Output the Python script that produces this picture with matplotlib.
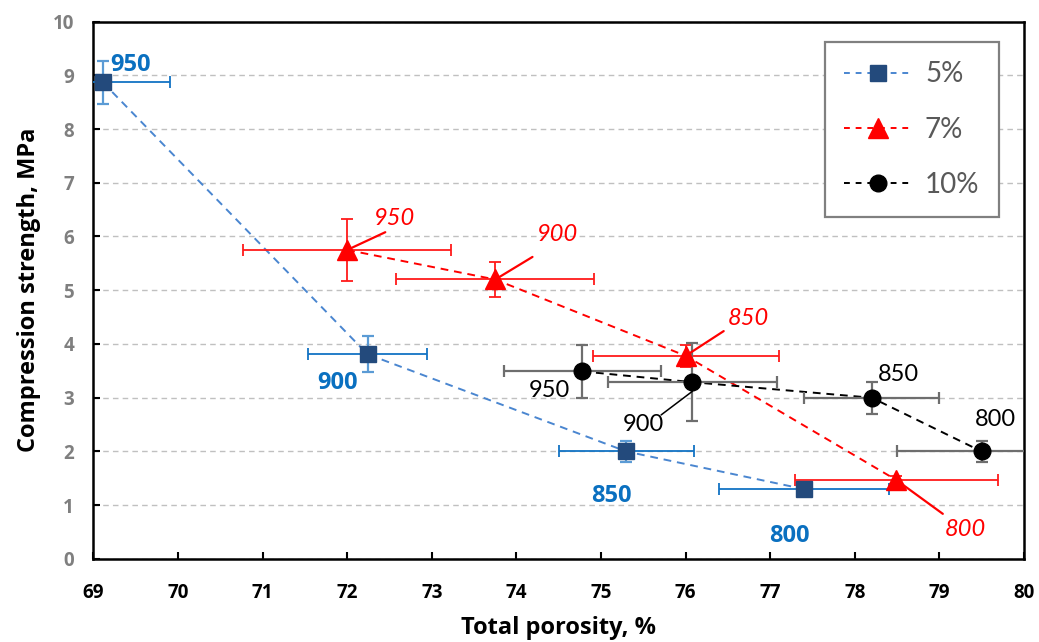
import matplotlib
matplotlib.use('Agg')
import matplotlib.pyplot as plt

plt.rcParams['font.family'] = ['Lato', 'DejaVu Sans']
BOLD = ['Open Sans', 'DejaVu Sans']

# ---- data ----
# 5 %
x5 = [69.11, 72.24, 75.30, 77.40]
y5 = [8.87, 3.81, 2.00, 1.30]
xe5 = [0.80, 0.70, 0.80, 1.00]
ye5 = [0.40, 0.33, 0.20, 0.07]
lab5 = ['950', '900', '850', '800']

# 7 %
x7 = [72.00, 73.75, 76.00, 78.49]
y7 = [5.75, 5.20, 3.78, 1.47]
xe7 = [1.23, 1.17, 1.10, 1.20]
ye7 = [0.58, 0.33, 0.20, 0.08]
lab7 = ['950', '900', '850', '800']

# 10 %
x10 = [74.78, 76.08, 78.20, 79.50]
y10 = [3.49, 3.29, 3.00, 2.00]
xe10 = [0.93, 1.00, 0.80, 1.00]
ye10 = [0.50, 0.73, 0.30, 0.20]
lab10 = ['950', '900', '850', '800']

# label positions (text anchor)
pos5 = [(69.20, 9.20), (71.88, 3.27), (75.12, 1.17), (77.23, 0.43)]
pos7 = [(72.56, 6.34), (74.49, 6.03), (76.74, 4.48), (79.31, 0.54)]
lead7 = [(72.45, 6.08), (74.19, 5.62), (76.45, 4.24), (79.04, 0.84)]
pos10 = [(74.39, 3.13), (75.50, 2.51), (78.52, 3.44), (79.66, 2.60)]

fig = plt.figure(figsize=(10.39, 6.42), dpi=100)
ax = fig.add_axes([0.0899, 0.1293, 0.8957, 0.8372])

# 5 %
ax.plot(x5, y5, ls='--', color='#4a86d0', lw=1.4, dashes=(4, 3), zorder=2)
ax.errorbar(x5, y5, xerr=xe5, fmt='none', ecolor='#1273c4', elinewidth=1.3,
            capsize=4, capthick=1.3, zorder=3)
ax.errorbar(x5, y5, yerr=ye5, fmt='none', ecolor='#5b9bd5', elinewidth=1.6,
            capsize=4, capthick=1.6, zorder=3)
ax.plot(x5, y5, ls='none', marker='s', ms=11, color='#234a7c', zorder=4)

# 7 %
ax.plot(x7, y7, ls='--', color='#ff0000', lw=1.4, dashes=(4, 3), zorder=2)
ax.errorbar(x7, y7, xerr=xe7, yerr=ye7, fmt='none', ecolor='#ff1a1a',
            elinewidth=1.3, capsize=4, capthick=1.3, zorder=3)
ax.plot(x7, y7, ls='none', marker='^', ms=14, color='#ff0000', zorder=4)

# 10 %
ax.plot(x10, y10, ls='--', color='black', lw=1.4, dashes=(4, 3), zorder=2)
ax.errorbar(x10, y10, xerr=xe10, yerr=ye10, fmt='none', ecolor='#6e6e6e',
            elinewidth=1.6, capsize=4, capthick=1.6, zorder=3)
ax.plot(x10, y10, ls='none', marker='o', ms=12, color='black', zorder=4)

# legend proxies
h5, = ax.plot([], [], ls='--', dashes=(3, 3), color='#4a86d0', lw=1.4,
              marker='s', ms=11, mfc='#234a7c', mec='#234a7c', label='5%')
h7, = ax.plot([], [], ls='--', dashes=(3, 3), color='#ff0000', lw=1.4,
              marker='^', ms=14, label='7%')
h10, = ax.plot([], [], ls='--', dashes=(3, 3), color='black', lw=1.4,
               marker='o', ms=12, label='10%')

# point labels
for i, t in enumerate(lab5):
    ha = 'left' if i == 0 else 'center'
    ax.text(pos5[i][0], pos5[i][1], t, color='#0a70c0', fontsize=17,
            fontweight='bold', family=BOLD, ha=ha, va='center', zorder=5)
for i, t in enumerate(lab7):
    ax.text(pos7[i][0], pos7[i][1], t, color='#ff0000', fontsize=17,
            style='italic', ha='center', va='center', zorder=5)
    ax.annotate('', xy=(x7[i], y7[i]), xytext=lead7[i],
                arrowprops=dict(arrowstyle='-', color='#ff0000', lw=1.6,
                                shrinkA=0, shrinkB=0), zorder=5)
for i, t in enumerate(lab10):
    ax.text(pos10[i][0], pos10[i][1], t, color='black', fontsize=17,
            ha='center', va='center', zorder=5)
ax.annotate('', xy=(76.08, 3.12), xytext=(75.71, 2.68),
            arrowprops=dict(arrowstyle='-', color='black', lw=1.1,
                            shrinkA=0, shrinkB=0), zorder=5)

ax.set_xlim(69, 80)
ax.set_ylim(0, 10)
ax.set_xticks(range(69, 81))
ax.set_yticks(range(0, 11))
ax.grid(axis='y', ls=(0, (4, 3)), color='#c0c0c0', lw=1.0, zorder=0)
ax.set_axisbelow(True)
for s in ax.spines.values():
    s.set_color('black')
    s.set_linewidth(1.8)
ax.tick_params(direction='in', length=5, width=1.5)
ax.tick_params(axis='x', pad=17)
ax.tick_params(axis='y', pad=14)
for lbl in ax.get_xticklabels():
    lbl.set_fontsize(13.5)
    lbl.set_fontweight('bold')
    lbl.set_family(BOLD)
    lbl.set_color('black')
for lbl in ax.get_yticklabels():
    lbl.set_fontsize(13.5)
    lbl.set_fontweight('bold')
    lbl.set_family(BOLD)
    lbl.set_color('#7f7f7f')

ax.set_xlabel('Total porosity, %', fontsize=17, fontweight='bold',
              family=BOLD, labelpad=10)
ax.set_ylabel('Compression strength, MPa', fontsize=17, fontweight='bold',
              family=BOLD, labelpad=8)

leg = ax.legend(handles=[h5, h7, h10], loc='upper right',
                bbox_to_anchor=(0.973, 0.962), fontsize=20, labelspacing=1.05,
                handlelength=2.4, handletextpad=0.5, borderpad=0.7,
                borderaxespad=0, fancybox=False, framealpha=1,
                edgecolor='#808080')
leg.get_frame().set_linewidth(1.6)
for t in leg.get_texts():
    t.set_color('#595959')

fig.savefig('out.png', dpi=100)
